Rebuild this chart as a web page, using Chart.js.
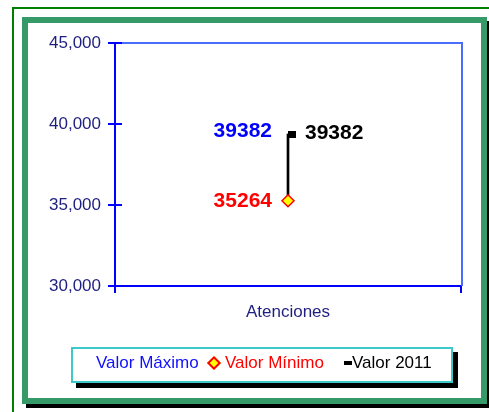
<!DOCTYPE html>
<html>
<head>
<meta charset="utf-8">
<script src="https://cdn.jsdelivr.net/npm/chart.js@4/dist/chart.umd.min.js"></script>
<style>
  html, body { margin:0; padding:0; background:#fff; width:489px; height:412px; overflow:hidden; }
  #thin { position:absolute; left:12px; top:7px; width:490px; height:420px; border-left:2px solid #008000; border-top:2px solid #008000; }
  #frame { position:absolute; left:22px; top:17px; width:465px; height:387px; box-sizing:border-box; border:6px solid #369a68; box-shadow:4px 4px 0 #000; background:#fff; }
  #wrap { position:absolute; left:0; top:0; width:489px; height:412px; }
  #legend { position:absolute; left:71px; top:347px; width:382px; height:36px; box-sizing:border-box; border:2px solid #3cc9c9; background:#fff; box-shadow:5px 5px 0 #000; font-family: Arial, "Liberation Sans", sans-serif; font-size:17px; }
  .lt { position:absolute; top:4px; line-height:20px; white-space:nowrap; }
  .mk { position:absolute; }
</style>
</head>
<body>
<div id="thin"></div>
<div id="frame"></div>
<div id="wrap"><canvas id="c" width="489" height="412"></canvas></div>
<div id="legend"></div>
<script>
// ---- data ----
const categories = ['Atenciones'];
const seriesNames = ['Valor Máximo', 'Valor Mínimo', 'Valor 2011'];
const valorMaximo = [39382];
const valorMinimo = [35264];
const valor2011 = [39382];
const yTicks = [30000, 35000, 40000, 45000];

const NAVY = '#1f1f80';
const AXIS = '#0000ff';
const FONT = 'Arial, "Liberation Sans", sans-serif';
Chart.defaults.font.family = FONT;

// close marker: a right-hand tick (Excel high-low-close style)
const closeMark = document.createElement('canvas');
closeMark.width = 18; closeMark.height = 7;
(function(){ const g = closeMark.getContext('2d'); g.fillStyle = '#000'; g.fillRect(9, 0, 8, 7); })();

const labelPlugin = {
  id: 'valueLabels',
  afterDatasetsDraw(chart, args, opts) {
    const ctx = chart.ctx;
    ctx.save();
    ctx.font = 'bold 21px ' + FONT;
    ctx.textBaseline = 'middle';
    opts.items.forEach(it => {
      const meta = chart.getDatasetMeta(it.dataset);
      meta.data.forEach((pt, i) => {
        const v = chart.data.datasets[it.dataset].data[i];
        ctx.fillStyle = it.color;
        ctx.textAlign = it.align;
        ctx.fillText(String(v), pt.x + it.dx, pt.y + it.dy);
      });
    });
    ctx.restore();
  }
};

const framePlugin = {
  id: 'plotFrame',
  beforeDatasetsDraw(chart) {
    const {ctx, chartArea:a} = chart;
    ctx.save();
    ctx.strokeStyle = '#4a6cff';
    ctx.lineWidth = 2;
    ctx.beginPath();
    ctx.moveTo(a.left, a.top); ctx.lineTo(a.right + 1, a.top); ctx.lineTo(a.right + 1, a.bottom);
    ctx.stroke();
    // inward part of the crossing y ticks
    const ys = chart.scales.y;
    ctx.strokeStyle = AXIS;
    ys.ticks.forEach(t => {
      const y = Math.round(ys.getPixelForValue(t.value));
      ctx.beginPath(); ctx.moveTo(a.left, y); ctx.lineTo(a.left + 7, y); ctx.stroke();
    });
    ctx.restore();
  }
};

new Chart(document.getElementById('c'), {
  type: 'line',
  data: {
    labels: categories,
    datasets: [
      { label: seriesNames[0], data: valorMaximo, showLine: false, pointRadius: 0, borderColor: '#0000ff', order: 1 },
      { label: seriesNames[1], data: valorMinimo, showLine: false, pointStyle: 'rectRot', pointRadius: 6,
        backgroundColor: '#ffff00', borderColor: '#ff0000', borderWidth: 1.5, order: 1 },
      { label: seriesNames[2], data: valor2011, showLine: false, pointStyle: closeMark, pointRadius: 5, order: 1 },
      { type: 'bar', label: 'hilo', data: [[valorMinimo[0], valorMaximo[0]]], backgroundColor: '#000', barThickness: 2, order: 5 }
    ]
  },
  options: {
    responsive: false,
    animation: false,
    layout: { padding: { left: 0, top: 43, right: 28, bottom: 86 } },
    plugins: {
      legend: { display: false },
      tooltip: { enabled: false },
      valueLabels: {
        items: [
          { dataset: 0, color: '#0000ff', align: 'right', dx: -16, dy: -3 },
          { dataset: 1, color: '#ff0000', align: 'right', dx: -16, dy: 0 },
          { dataset: 2, color: '#000000', align: 'left', dx: 17, dy: -1 }
        ]
      }
    },
    scales: {
      x: {
        type: 'category',
        offset: true,
        afterFit(s) { s.height = 40; },
        grid: { offset: true, drawOnChartArea: false, drawTicks: true, tickLength: 7, color: AXIS, lineWidth: 2 },
        border: { color: AXIS, width: 2 },
        ticks: { color: NAVY, font: { size: 17 }, padding: 9 }
      },
      y: {
        min: yTicks[0], max: yTicks[yTicks.length - 1],
        afterFit(s) { s.width = 115; },
        afterBuildTicks(s) { s.ticks = yTicks.map(v => ({ value: v })); },
        grid: { drawOnChartArea: false, drawTicks: true, tickLength: 7, color: AXIS, lineWidth: 2 },
        border: { color: AXIS, width: 2 },
        ticks: { color: NAVY, font: { size: 17 }, padding: 7,
                 callback: v => v.toLocaleString('en-US') }
      }
    }
  },
  plugins: [labelPlugin, framePlugin]
});

// ---- legend (HTML, built from series names) ----
const legendItems = [
  { name: seriesNames[0], color: '#1010ff', marker: null, left: 23 },
  { name: seriesNames[1], color: '#ff0000', marker: 'diamond', left: 152 },
  { name: seriesNames[2], color: '#000000', marker: 'dash', left: 279 }
];
const lg = document.getElementById('legend');
legendItems.forEach(it => {
  if (it.marker === 'diamond') {
    const m = document.createElement('div');
    m.className = 'mk';
    m.style.cssText = 'box-sizing:border-box;left:' + (it.left - 16) + 'px;top:9px;width:10px;height:10px;background:#ffff00;border:2px solid #ff0000;transform:rotate(45deg);';
    lg.appendChild(m);
  } else if (it.marker === 'dash') {
    const m = document.createElement('div');
    m.className = 'mk';
    m.style.cssText = 'left:' + (it.left - 8) + 'px;top:12px;width:8px;height:4px;background:#000;';
    lg.appendChild(m);
  }
  const s = document.createElement('span');
  s.className = 'lt';
  s.style.left = it.left + 'px';
  s.style.color = it.color;
  s.textContent = it.name;
  lg.appendChild(s);
});
</script>
</body>
</html>
